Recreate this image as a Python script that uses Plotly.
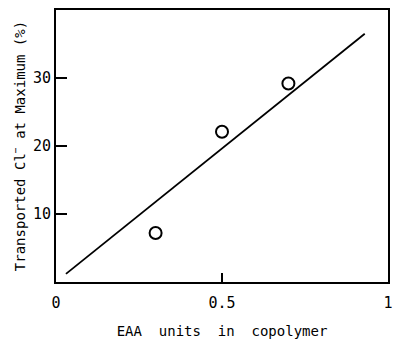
import plotly.graph_objects as go

# Data
eaa_fraction = [0.30, 0.50, 0.70]
transported_cl = [7.2, 22.1, 29.2]

fit_x = [0.03, 0.93]
fit_y = [1.2, 36.5]

x_tick_vals = [0, 0.5, 1]
x_tick_text = ["0", "0.5", "1"]
y_tick_vals = [10, 20, 30]
y_tick_text = ["10", "20", "30"]

font_family = "DejaVu Sans Mono"

fig = go.Figure()
fig.add_trace(go.Scatter(
    x=fit_x, y=fit_y, mode="lines",
    line=dict(color="black", width=1.8),
    showlegend=False, hoverinfo="skip",
))
fig.add_trace(go.Scatter(
    x=eaa_fraction, y=transported_cl, mode="markers",
    marker=dict(symbol="circle-open", size=12, color="black",
                line=dict(color="black", width=2)),
    showlegend=False,
))

fig.update_layout(
    width=393, height=339,
    margin=dict(l=56, r=5, t=10, b=57, autoexpand=False),
    paper_bgcolor="white", plot_bgcolor="white",
    font=dict(family=font_family, size=14, color="black"),
    xaxis=dict(
        range=[0, 1], tickvals=x_tick_vals, ticktext=x_tick_text,
        ticks="inside", ticklen=9, tickwidth=1.5, tickcolor="black",
        showline=True, linecolor="black", linewidth=2, mirror=True,
        showgrid=False, zeroline=False, automargin=False,
        ticklabeloverflow="allow", ticklabelstandoff=6,
        title=dict(text="EAA  units  in  copolymer", standoff=20,
                   font=dict(family=font_family, size=14)),
        tickfont=dict(family=font_family, size=15),
    ),
    yaxis=dict(
        range=[0, 40], tickvals=y_tick_vals, ticktext=y_tick_text,
        ticks="inside", ticklen=11, tickwidth=1.5, tickcolor="black",
        showline=True, linecolor="black", linewidth=2, mirror=True,
        showgrid=False, zeroline=False, automargin=False,
        title=dict(text="Transported Cl<sup>−</sup> at Maximum (%)", standoff=4,
                   font=dict(family=font_family, size=14)),
        tickfont=dict(family=font_family, size=15),
    ),
)

fig.write_html(
    "out.html",
    config={"displayModeBar": False},
    post_script=(
        "document.documentElement.style.margin='0';"
        "document.documentElement.style.overflow='hidden';"
        "document.body.style.margin='0';"
        "document.body.style.overflow='hidden';"
    ),
)
